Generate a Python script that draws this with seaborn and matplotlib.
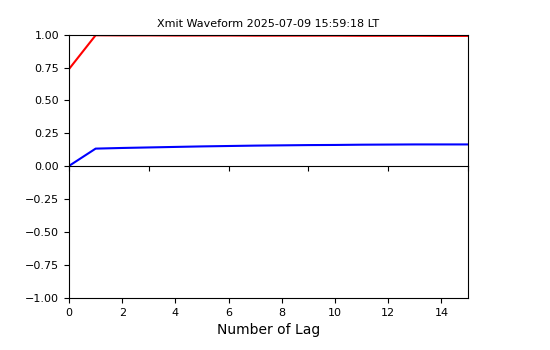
import matplotlib
matplotlib.use("Agg")
import matplotlib.pyplot as plt
import seaborn as sns
import pandas as pd

lags = list(range(16))
red_vals = [0.74, 0.998, 0.997, 0.997, 0.996, 0.996, 0.996, 0.995, 0.995, 0.995, 0.995, 0.994, 0.994, 0.994, 0.993, 0.993]
blue_vals = [0.0, 0.132, 0.137, 0.141, 0.145, 0.149, 0.152, 0.155, 0.157, 0.159, 0.160, 0.162, 0.163, 0.164, 0.164, 0.164]
title = "Xmit Waveform 2025-07-09 15:59:18 LT"
xlabel = "Number of Lag"

df = pd.DataFrame({"lag": lags, "red": red_vals, "blue": blue_vals})

fig = plt.figure(figsize=(5.5, 3.5), dpi=100)
ax_bot = fig.add_axes([0.1255, 0.1486, 0.7255, 0.3774])
ax_top = fig.add_axes([0.1255, 0.526, 0.7255, 0.374])
ax_bot.patch.set_visible(False)
ax_top.patch.set_visible(False)
ax_top.set_zorder(2)

sns.lineplot(data=df, x="lag", y="red", ax=ax_top, color="red", linewidth=1.5)
sns.lineplot(data=df, x="lag", y="blue", ax=ax_top, color="blue", linewidth=1.5)

ax_top.set_xlim(0, 15)
ax_top.set_ylim(0, 1)
ax_top.set_xticks([0, 3, 6, 9, 12, 15])
ax_top.set_xticklabels([])
ax_top.set_yticks([0, 0.25, 0.5, 0.75, 1.0])
ax_top.set_yticklabels(["0.00", "0.25", "0.50", "0.75", "1.00"])
ax_top.set_xlabel("")
ax_top.set_ylabel("")
ax_top.set_title(title, fontsize=8)
ax_top.tick_params(labelsize=8)

ax_bot.set_xlim(0, 15)
ax_bot.set_ylim(-1, 0)
ax_bot.set_xticks([0, 2, 4, 6, 8, 10, 12, 14])
ax_bot.set_yticks([-1.0, -0.75, -0.5, -0.25])
ax_bot.set_yticklabels(["\u22121.00", "\u22120.75", "\u22120.50", "\u22120.25"])
ax_bot.set_xlabel(xlabel, fontsize=10)
ax_bot.tick_params(labelsize=8)
ax_bot.spines["top"].set_visible(False)

fig.savefig("out.png", dpi=100)
